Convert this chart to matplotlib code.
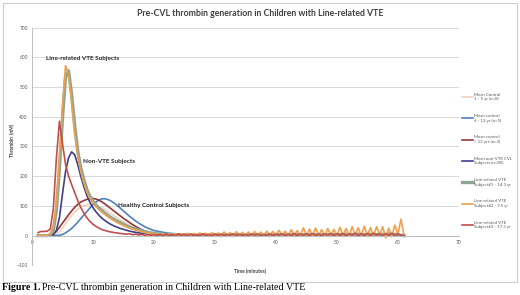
import numpy as np
import matplotlib
matplotlib.use('Agg')
import matplotlib.pyplot as plt
from matplotlib.patches import Rectangle

plt.rcParams['font.family'] = ['Lato', 'DejaVu Sans']

# time grid (minutes) for the main peak region and the long tail
t_early = [1, 1.5, 2, 2.5, 3, 3.5, 4, 4.5, 5, 5.5, 6, 6.5, 7, 7.5, 8, 8.5, 9, 9.5, 10, 10.5,
           11, 11.5, 12, 12.5, 13, 13.5, 14, 14.5, 15, 15.5, 16, 16.5, 17, 17.5, 18, 18.5, 19, 19.5, 20]
t_tail = [20.5, 21, 21.5, 22, 22.5, 23, 23.5, 24, 24.5, 25, 25.5, 26, 26.5, 27, 27.5, 28, 28.5, 29, 29.5, 30,
          30.5, 31, 31.5, 32, 32.5, 33, 33.5, 34, 34.5, 35, 35.5, 36, 36.5, 37, 37.5, 38, 38.5, 39, 39.5, 40,
          40.5, 41, 41.5, 42, 42.5, 43, 43.5, 44, 44.5, 45, 45.5, 46, 46.5, 47, 47.5, 48, 48.5, 49, 49.5, 50,
          50.5, 51, 51.5, 52, 52.5, 53, 53.5, 54, 54.5, 55, 55.5, 56, 56.5, 57, 57.5, 58, 58.5, 59, 59.5, 60,
          60.5, 61]
t_tail_mean = [22, 25, 30, 35, 40, 45, 50, 55, 60, 61]

# thrombin (nM) - mean controls and non-VTE
ctrl_1_5 = [0, 0, 0, 0, 0, 1, 4, 12, 25, 40, 55, 68, 79, 88, 96, 101, 104, 105, 104, 102,
            98, 93, 87, 80, 73, 66, 59, 52, 46, 40, 34, 29, 25, 21, 17, 14, 12, 10, 8]
ctrl_1_5_tail = [4, 1, 0, 0, 0, 0, 0, 0, 0, 0]
ctrl_6_12 = [0, 0, 0, 0, 0, 0, 0, 1, 4, 9, 16, 24, 34, 45, 57, 69, 81, 93, 104, 113,
             120, 124, 124, 121, 116, 109, 101, 92, 83, 74, 65, 57, 49, 42, 36, 30, 25, 21, 17]
ctrl_6_12_tail = [9, 3, 1, 0, 0, 0, 0, 0, 0, 0]
ctrl_12 = [0, 0, 0, 0, 1, 5, 14, 28, 42, 56, 70, 83, 95, 105, 113, 118, 122, 124, 125, 123,
           119, 113, 106, 98, 90, 82, 74, 66, 58, 51, 44, 37, 31, 25, 20, 15, 11, 8, 6]
ctrl_12_tail = [3, 1, 0, 0, 0, 0, 0, 0, 0, 0]
non_vte = [0, 0, 0, 0, 0, 3, 18, 60, 140, 215, 262, 282, 272, 240, 200, 165, 135, 112, 94, 80,
           68, 58, 50, 43, 37, 32, 28, 24, 21, 18, 15, 13, 11, 9, 8, 7, 6, 5, 4]
non_vte_tail = [2, 1, 0, 0, 0, 0, 0, 0, 0, 0]

# line-related VTE subjects
subj1 = [0, 0, 0, 0, 3, 18, 85, 225, 395, 535, 555, 475, 370, 285, 228, 188, 155, 132, 115, 102,
         92, 83, 75, 67, 60, 54, 48, 43, 38, 33, 29, 25, 22, 19, 16, 13, 11, 9, 7]
subj1_tail = [6, 5, 4, 4, 3, 3, 3, 2, 2, 2, 3, 1, 2, 1, 3, 1, 2, 0, 3, 1,
              2, 0, 3, 1, 2, 0, 3, 1, 2, 0, 3, 1, 2, 0, 3, 1, 2, 0, 3, 1,
              3, 0, 4, 1, 3, 0, 4, 1, 3, 0, 4, 1, 3, 0, 4, 1, 3, 0, 4, 1,
              4, 0, 5, 1, 4, 0, 5, 1, 4, 0, 5, 1, 4, 0, 5, 1, 6, 0, 5, 2,
              1, 0]
subj2 = [0, 0, 0, 1, 6, 30, 110, 260, 430, 572, 545, 450, 345, 270, 218, 178, 148, 126, 110, 98,
         88, 79, 71, 63, 56, 50, 44, 39, 34, 30, 26, 22, 19, 16, 13, 11, 9, 7, 6]
subj2_tail = [5, 4, 6, 2, 5, 1, 7, 2, 6, 1, 8, 2, 7, 1, 9, 3, 8, 1, 10, 2,
              9, 1, 12, 2, 10, 0, 13, 2, 11, 1, 12, 0, 14, 2, 12, 0, 15, 1, 14, 2,
              18, 1, 15, -1, 20, 2, 17, 0, 26, 1, 22, -1, 25, 2, 20, 0, 24, 1, 21, 0,
              28, 0, 24, -2, 30, 1, 26, -1, 32, 0, 27, -3, 30, 2, 30, -8, 25, -3, 35, 5,
              55, 2]
subj3 = [10, 14, 14, 15, 22, 90, 260, 385, 310, 240, 200, 172, 145, 118, 95, 76, 60, 48, 38, 31,
         25, 20, 17, 14, 12, 10, 9, 7, 6, 5, 6, 3, 5, 2, 4, 1, 3, 1, 3]
subj3_tail = [1, 4, 0, 5, 1, 3, 0, 5, 2, 4, 0, 5, 1, 3, 0, 6, 1, 4, 0, 5,
              1, 5, 0, 4, 2, 6, 0, 5, 1, 4, 0, 6, 2, 5, 0, 4, 1, 6, 0, 5,
              2, 6, 0, 5, 1, 7, 0, 5, 2, 6, 0, 7, 1, 5, 0, 6, 2, 7, 0, 6,
              1, 7, 0, 6, 2, 8, 0, 6, 1, 7, 0, 8, 2, 6, -1, 7, 1, 8, 0, 6,
              2, 0]

series = [
    ('Mean Control\n1 - 5 yr (n=8)', ctrl_1_5, ctrl_1_5_tail, t_tail_mean, '#F3D2C0', 1.2),
    ('Mean control\n6 - 12 yr (n=5)', ctrl_6_12, ctrl_6_12_tail, t_tail_mean, '#4F81BD', 1.2),
    ('Mean control\n> 12 yrs (n=3)', ctrl_12, ctrl_12_tail, t_tail_mean, '#953735', 1.2),
    ('Mean non-VTE CVL\nSubjects (n=80)', non_vte, non_vte_tail, t_tail_mean, '#40408A', 1.2),
    ('Line-related VTE\nSubject#1 - 14.3 yr', subj1, subj1_tail, t_tail, '#8EA596', 2.4),
    ('Line-related VTE\nSubject#2 - 3.5 yr', subj2, subj2_tail, t_tail, '#F0A04B', 1.2),
    ('Line-related VTE\nSubject#3 - 17.3 yr', subj3, subj3_tail, t_tail, '#C0504D', 1.2),
]

fig = plt.figure(figsize=(5.2, 2.95), dpi=100)
fig.patches.append(Rectangle((3 / 520, 1 - 282 / 295), 514 / 520, 279 / 295, transform=fig.transFigure,
                             fill=False, edgecolor='#C9CED8', lw=0.8))
ax = fig.add_axes([0.0615, 0.1007, 0.821, 0.8054])

for label, early, tail, tt, color, lw in series:
    x = np.concatenate([t_early, tt])
    y = np.concatenate([early, tail])
    ax.plot(x, y, color=color, lw=lw, label=label, solid_joinstyle='round')

ax.set_xlim(0, 70)
ax.set_ylim(-100, 700)
ax.set_xticks(range(0, 71, 10))
ax.set_yticks(range(-100, 701, 100))
ax.grid(axis='y', color='#D9D9D9', lw=0.7)
ax.set_axisbelow(True)
for s in ['top', 'right']:
    ax.spines[s].set_visible(False)
ax.spines['bottom'].set_position(('data', 0))
ax.spines['bottom'].set_color('#BFBFBF')
ax.spines['bottom'].set_linewidth(0.7)
ax.spines['left'].set_color('#BFBFBF')
ax.spines['left'].set_linewidth(0.7)
ax.tick_params(length=0, labelsize=3.5, labelcolor='#595959', pad=3)

ax.text(2.3, 595, 'Line-related VTE Subjects', fontsize=4.6, fontweight='bold', color='#262626', va='center')
ax.text(8.4, 251, 'Non-VTE Subjects', fontsize=4.6, fontweight='bold', color='#262626', va='center')
ax.text(14.1, 100, 'Healthy Control Subjects', fontsize=4.6, fontweight='bold', color='#262626', va='center')

fig.text(260 / 520, 1 - 14 / 295, 'Pre-CVL thrombin generation in Children with Line-related VTE',
         ha='center', va='center', fontsize=6.3, fontweight='bold', color='#404040')
fig.text(12.5 / 520, 1 - 140 / 295, 'Thrombin  (nM)', rotation=90, ha='center', va='center',
         fontsize=3.5, fontweight='bold', color='#404040')
fig.text(250 / 520, 1 - 271 / 295, 'Time (minutes)', ha='center', va='center',
         fontsize=3.5, fontweight='bold', color='#404040')

ax.legend(loc='center left', bbox_to_anchor=(462 / 520, 1 - 161 / 295), bbox_transform=fig.transFigure,
          frameon=False, fontsize=3.2, handlelength=2.4, handletextpad=0.4, labelspacing=2.85,
          labelcolor='#595959', borderaxespad=0, borderpad=0)

# caption below the chart box
fig.canvas.draw()
cap1 = fig.text(2 / 520, 1 - 288 / 295, 'Figure 1.', family='Liberation Serif', fontweight='bold',
                fontsize=7.2, va='center', color='black')
fig.canvas.draw()
bb = cap1.get_window_extent()
fig.text(bb.x1 / 520 + 2 / 520, 1 - 288 / 295, 'Pre-CVL thrombin generation in Children with Line-related VTE',
         family='Liberation Serif', fontsize=7.2, va='center', color='black')

fig.savefig('out.png', dpi=100)
